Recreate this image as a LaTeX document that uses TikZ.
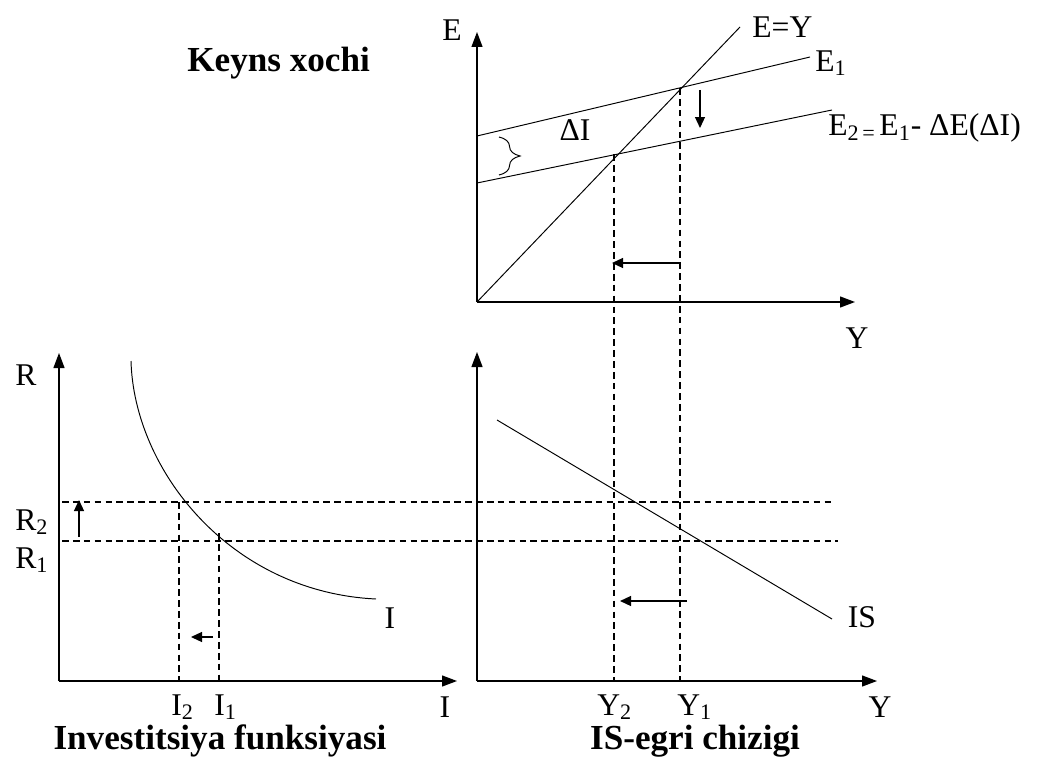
\documentclass[tikz,border=0pt]{standalone}
\usepackage{fontspec}
\setmainfont{Liberation Serif}
\usetikzlibrary{arrows.meta, positioning, decorations.pathreplacing}

\begin{document}
\begin{tikzpicture}[x=0.02cm, y=-0.02cm,
  axis/.style={line width=0.7pt, -{Triangle[length=0.3cm, width=0.22cm]}},
  curve/.style={line width=0.55pt},
  guide/.style={line width=0.6pt, dash pattern=on 3.8pt off 2.4pt},
  movearrow/.style={line width=0.7pt, -{Triangle[length=0.22cm, width=0.2cm]}},
  lbl/.style={inner sep=0pt, font=\fontsize{18}{20}\selectfont},
  ttl/.style={inner sep=0pt, font=\fontsize{20}{23}\selectfont\bfseries}]
  \useasboundingbox (0,0) rectangle (1047,760);

  % Keyns xochi
  \coordinate (O1) at (477,302);
  \coordinate (Etop) at (477,32);
  \coordinate (Yend1) at (855,302);
  \coordinate (EYend) at (740,27);
  \coordinate (E1a) at (477,136);
  \coordinate (E1b) at (810,57);
  \coordinate (E2a) at (477,183);
  \coordinate (E2b) at (832,110);
  \coordinate (A) at (680,88);
  \coordinate (B) at (614,154);
  \draw[axis] (O1) -- (Etop);
  \draw[axis] (O1) -- (Yend1);
  \draw[curve] (O1) -- (EYend);
  \draw[curve] (E1a) -- (E1b);
  \draw[curve] (E2a) -- (E2b);
  \draw[curve, decorate, decoration={brace, amplitude=12pt}] (499,137) -- (499,175);
  \draw[movearrow] (700,90) -- (700,128);
  \draw[movearrow] (680,263) -- (612,263);

  \node[ttl, anchor=base west] (keyns) at (187,72) {Keyns xochi};
  \node[lbl] (Elab) at (452,30) {E};
  \node[lbl, anchor=west] (EYlab) at (752,27) {E=Y};
  \node[lbl, anchor=west] (E1lab) at (815,63) {E\textsubscript{1}};
  \node[lbl, anchor=west] (E2lab) at (828,128) {E\textsubscript{2\,=\,}E\textsubscript{1}- ΔE(ΔI)};
  \node[lbl] (dI) at (575,130) {ΔI};
  \node[lbl] (Ylab1) at (857,338) {Y};

  % IS-egri chizigi
  \coordinate (O2) at (477,681);
  \coordinate (Rtop2) at (477,352);
  \coordinate (Yend2) at (877,681);
  \coordinate (Y1) at (680,681);
  \coordinate (Y2) at (614,681);
  \draw[axis] (O2) -- (Rtop2);
  \draw[axis] (O2) -- (Yend2);
  \draw[curve] (497,420) -- (832,619);
  \draw[guide] (A) -- (Y1);
  \draw[guide] (B) -- (Y2);
  \draw[movearrow] (687,601) -- (620,601);

  \node[lbl] (ISlab) at (862,617) {IS};
  \node[lbl, anchor=west] (Y2lab) at (597,707) {Y\textsubscript{2}};
  \node[lbl, anchor=west] (Y1lab) at (677,707) {Y\textsubscript{1}};
  \node[lbl] (Ylab2) at (880,707) {Y};
  \node[ttl] (isttl) at (695,741) {IS-egri chizigi};

  % Investitsiya funksiyasi
  \coordinate (O3) at (59,681);
  \coordinate (Rtop3) at (59,353);
  \coordinate (Iend) at (457,681);
  \coordinate (R2a) at (62,502);
  \coordinate (R2b) at (835,502);
  \coordinate (R1a) at (62,541);
  \coordinate (R1b) at (838,541);
  \coordinate (I2) at (179,681);
  \coordinate (I1) at (219,681);
  \draw[axis] (O3) -- (Rtop3);
  \draw[axis] (O3) -- (Iend);
  \draw[curve] (131,361) .. controls (134,470) and (230,592) .. (376,599);
  \draw[guide] (R2a) -- (R2b);
  \draw[guide] (R1a) -- (R1b);
  \draw[guide] (179,502) -- (I2);
  \draw[guide] (219,533) -- (I1);
  \draw[movearrow] (79,537) -- (79,500);
  \draw[movearrow] (213,637) -- (191,637);

  \node[lbl, anchor=west] (Rlab) at (15,375) {R};
  \node[lbl, anchor=west] (R2lab) at (15,522) {R\textsubscript{2}};
  \node[lbl, anchor=west] (R1lab) at (15,560) {R\textsubscript{1}};
  \node[lbl] (Ilab) at (390,618) {I};
  \node[lbl, anchor=west] (I2lab) at (171,707) {I\textsubscript{2}};
  \node[lbl, anchor=west] (I1lab) at (214,707) {I\textsubscript{1}};
  \node[lbl] (Iaxis) at (445,707) {I};
  \node[ttl] (invttl) at (220,741) {Investitsiya funksiyasi};
\end{tikzpicture}
\end{document}
